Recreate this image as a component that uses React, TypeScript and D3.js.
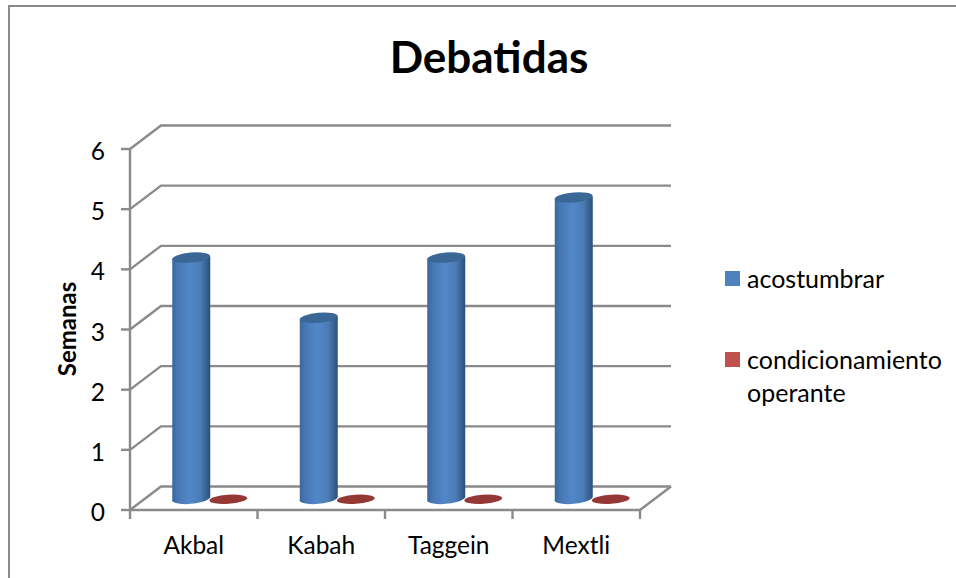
import React from "react";
import * as d3 from "d3";

const categories = ["Akbal", "Kabah", "Taggein", "Mextli"];
const acostumbrar = [4, 3, 4, 5];
const condicionamiento = [0, 0, 0, 0];
const yTicks = [0, 1, 2, 3, 4, 5, 6];
const legendItems = [
  { lines: ["acostumbrar"], color: "#4f81bd", y: 279 },
  { lines: ["condicionamiento", "operante"], color: "#c0504d", y: 360 },
];

const W = 956, H = 578;
const font = "Lato, Carlito, Calibri, 'Noto Sans', sans-serif";
const grid = "#8a8a8a";
const gridW = 2.4;
const DX = 31, DY = -23.5;
const x = d3.scaleBand<string>().domain(categories).range([130, 640]);
const y = d3.scaleLinear().domain([0, 6]).range([510, 149]);
const barW = 38, ry = 5.5;

function Cyl({ cx, v }: { cx: number; v: number }) {
  const b = y(0) + DY / 2;
  const t = y(v) + DY / 2;
  const a = cx - barW / 2, c = cx + barW / 2;
  const d = `M${a},${t + 1} L${a},${b + 1} A${barW / 2},${ry} -6 0 0 ${c},${b - 1} L${c},${t - 1} Z`;
  return (
    <g>
      <path d={d} fill="url(#cyl)" />
      <ellipse cx={cx} cy={t} rx={barW / 2} ry={ry - 0.5} transform={`rotate(-5 ${cx} ${t})`} fill="#3b6797" />
    </g>
  );
}

export default function App() {
  const groupCx = (c: string) => (x(c) as number) + x.bandwidth() / 2 + DX / 2 + 1;
  return (
    <svg width={W} height={H} style={{ position: "absolute", left: 0, top: 0 }} fontFamily={font}>
      <defs>
        <linearGradient id="cyl" x1="0" x2="1" y1="0" y2="0">
          <stop offset="0" stopColor="#3a689e" />
          <stop offset="0.15" stopColor="#4677b2" />
          <stop offset="0.45" stopColor="#5287c8" />
          <stop offset="0.75" stopColor="#4a7cb6" />
          <stop offset="1" stopColor="#2d4f78" />
        </linearGradient>
      </defs>
      <path d={`M9,${H} L9,6 L${W},6`} fill="none" stroke={grid} strokeWidth={2} />
      <text x={489} y={73} textAnchor="middle" fontSize={44} fontWeight={700} fill="#000">Debatidas</text>

      {yTicks.map((t) => (
        <g key={t}>
          <path d={`M${130},${y(t)} L${130 + DX},${y(t) + DY} L${640 + DX},${y(t) + DY}`} fill="none" stroke={grid} strokeWidth={gridW} />
          <line x1={121} x2={130} y1={y(t)} y2={y(t)} stroke={grid} strokeWidth={gridW} />
          <text x={105} y={y(t) + 11} textAnchor="end" fontSize={24.5} fill="#000">{t}</text>
        </g>
      ))}
      <line x1={130} x2={130} y1={149} y2={510} stroke={grid} strokeWidth={gridW} />
      <line x1={130} x2={640} y1={510} y2={510} stroke={grid} strokeWidth={gridW} />
      <line x1={640} x2={640 + DX} y1={510} y2={510 + DY} stroke={grid} strokeWidth={gridW} />
      {[...categories.map((c) => x(c) as number), 640].map((p) => (
        <line key={p} x1={p} x2={p} y1={510} y2={519} stroke={grid} strokeWidth={gridW} />
      ))}

      {categories.map((c, i) => (
        <g key={c}>
          <ellipse cx={groupCx(c) + barW / 2 - 1} cy={y(condicionamiento[i]) + DY / 2 + 1} rx={barW / 2} ry={4.5}
            transform={`rotate(-4 ${groupCx(c) + barW / 2 - 1} ${y(0) + DY / 2 + 1})`} fill="#953735" />
          <Cyl cx={groupCx(c) - barW / 2} v={acostumbrar[i]} />
          <text x={(x(c) as number) + x.bandwidth() / 2} y={554} textAnchor="middle" fontSize={24.5} fill="#000">{c}</text>
        </g>
      ))}

      <text transform="translate(76,329) rotate(-90)" textAnchor="middle" fontSize={24} fontWeight={700} fill="#000">Semanas</text>

      {legendItems.map((l) => (
        <g key={l.color}>
          <rect x={725} y={l.y - 8} width={15} height={15} fill={l.color} />
          {l.lines.map((s, i) => (
            <text key={s} x={747} y={l.y + 9 + i * 33} fontSize={25} fill="#000">{s}</text>
          ))}
        </g>
      ))}
    </svg>
  );
}
